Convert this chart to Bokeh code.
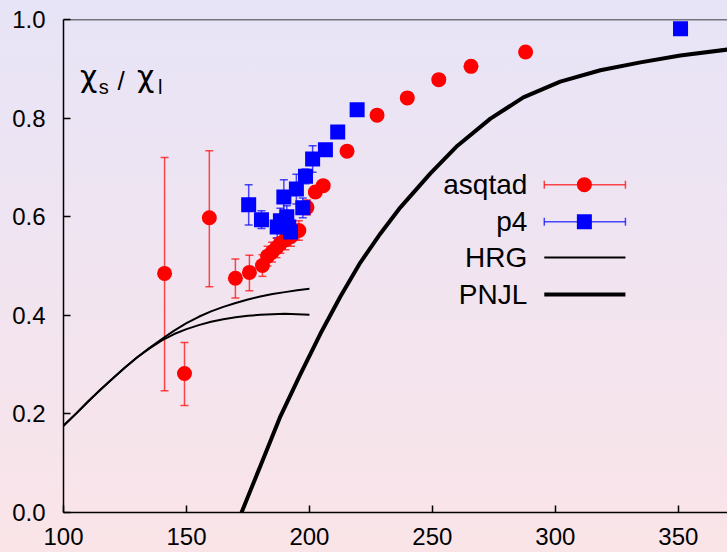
from bokeh.plotting import figure
from bokeh.models import (ColumnDataSource, Whisker, TeeHead, FixedTicker, PrintfTickFormatter,
                          Span, Label)
from bokeh.embed import file_html
from bokeh.resources import INLINE

# ---------------- data ----------------
asqtad_T = [141.1, 149.2, 159.3, 169.9, 175.6, 180.9, 183.0, 184.8, 186.6, 188.2, 190.2, 192.5,
            195.7, 199.0, 202.4, 205.6, 215.3, 227.5, 239.8, 252.6, 265.7, 287.9]
asqtad_val = [0.485, 0.282, 0.598, 0.475, 0.487, 0.501, 0.520, 0.528, 0.537, 0.546, 0.553, 0.560,
              0.572, 0.619, 0.650, 0.663, 0.733, 0.806, 0.841, 0.878, 0.905, 0.934]
asqtad_lo = [0.247, 0.217, 0.458, 0.435, 0.450, 0.479, 0.500, 0.508, 0.517, 0.526, 0.533, 0.540,
             0.552, 0.604, 0.640, 0.653, 0.728, 0.803, 0.838, 0.875, 0.902, 0.931]
asqtad_hi = [0.720, 0.345, 0.734, 0.514, 0.522, 0.523, 0.540, 0.548, 0.557, 0.566, 0.573, 0.580,
             0.592, 0.634, 0.660, 0.673, 0.738, 0.809, 0.844, 0.881, 0.908, 0.937]

p4_T = [175.3, 180.5, 186.9, 188.2, 189.6, 190.8, 191.6, 192.3, 194.7, 197.3, 198.4, 201.3,
        206.5, 211.5, 219.4, 350.9]
p4_val = [0.624, 0.594, 0.579, 0.592, 0.640, 0.600, 0.579, 0.569, 0.656, 0.618, 0.682, 0.717,
          0.736, 0.772, 0.817, 0.981]
p4_err = [0.041, 0.018, 0.022, 0.025, 0.035, 0.022, 0.020, 0.022, 0.030, 0.020, 0.015, 0.027,
          0.010, 0.008, 0.006, 0.004]

hrg_T = [100, 105, 110, 115, 120, 125, 130, 135, 140, 145, 150, 155, 160, 165, 170, 175, 180,
         185, 190, 195, 200]
hrg_upper = [0.176, 0.200, 0.225, 0.249, 0.272, 0.294, 0.315, 0.334, 0.352, 0.369, 0.384, 0.397,
             0.408, 0.417, 0.425, 0.432, 0.438, 0.443, 0.447, 0.451, 0.454]
hrg_lower = [0.176, 0.200, 0.225, 0.249, 0.272, 0.294, 0.315, 0.333, 0.349, 0.362, 0.372, 0.380,
             0.387, 0.392, 0.396, 0.399, 0.401, 0.402, 0.403, 0.402, 0.401]

pnjl_T = [172.4, 180.1, 188.2, 196.3, 204.5, 212.6, 220.7, 228.9, 237.0, 249.2, 260.2, 273.6,
          287.0, 302.0, 318.3, 334.6, 350.8, 370.0]
pnjl_val = [0.0, 0.095, 0.195, 0.280, 0.363, 0.438, 0.507, 0.566, 0.619, 0.688, 0.744, 0.799,
            0.842, 0.874, 0.897, 0.913, 0.927, 0.939]

x_ticks = [100, 150, 200, 250, 300, 350]
y_ticks = [0.0, 0.2, 0.4, 0.6, 0.8, 1.0]

legend_labels = ["asqtad", "p4", "HRG", "PNJL"]

# ---------------- styles ----------------
FONT = "Liberation Sans"
RED = "#ff0000"
BLUE = "#0000ff"

p = figure(width=727, height=552, x_range=(100, 370), y_range=(0, 1.0),
           output_backend="svg", toolbar_location=None, title=None,
           min_border_left=63, min_border_right=0, min_border_top=19, min_border_bottom=40)
p.background_fill_color = None
p.border_fill_color = None
p.outline_line_color = None
p.styles = {"background": "linear-gradient(to bottom, #e7e4f7 0%, #f1e4f0 50%, #fae4e8 100%)"}
p.grid.visible = False

for ax in (p.xaxis[0], p.yaxis[0]):
    ax.axis_line_color = "black"
    ax.axis_line_width = 1.5
    ax.major_tick_in = 7
    ax.major_tick_out = 0
    ax.major_tick_line_width = 1.5
    ax.minor_tick_line_color = None
    ax.major_label_text_font = FONT
    ax.major_label_text_font_size = "24px"
    ax.major_label_text_color = "black"
p.xaxis.ticker = FixedTicker(ticks=x_ticks)
p.yaxis.ticker = FixedTicker(ticks=y_ticks)
p.xaxis.formatter = PrintfTickFormatter(format="%d")
p.yaxis.formatter = PrintfTickFormatter(format="%.1f")
p.xaxis.major_label_standoff = 15
p.yaxis.major_label_standoff = 18

p.add_layout(Span(location=1.0, dimension="width", line_color="black", line_width=1.5))

# HRG and PNJL curves
p.line(hrg_T, hrg_upper, line_color="black", line_width=2)
p.line(hrg_T, hrg_lower, line_color="black", line_width=2)
p.line(pnjl_T, pnjl_val, line_color="black", line_width=4, line_join="round")

# asqtad
src_a = ColumnDataSource(dict(x=asqtad_T, y=asqtad_val, lo=asqtad_lo, hi=asqtad_hi))
p.add_layout(Whisker(source=src_a, base="x", lower="lo", upper="hi", dimension="height",
                     line_color=RED, line_alpha=0.7, line_width=1.5,
                     upper_head=TeeHead(size=8, line_color=RED, line_alpha=0.7, line_width=1.5),
                     lower_head=TeeHead(size=8, line_color=RED, line_alpha=0.7, line_width=1.5)))
p.scatter("x", "y", source=src_a, marker="circle", size=15, fill_color=RED, line_color=None)

# p4
p4_lo = [v - e for v, e in zip(p4_val, p4_err)]
p4_hi = [v + e for v, e in zip(p4_val, p4_err)]
src_b = ColumnDataSource(dict(x=p4_T, y=p4_val, lo=p4_lo, hi=p4_hi))
p.add_layout(Whisker(source=src_b, base="x", lower="lo", upper="hi", dimension="height",
                     line_color=BLUE, line_alpha=0.7, line_width=1.5,
                     upper_head=TeeHead(size=8, line_color=BLUE, line_alpha=0.7, line_width=1.5),
                     lower_head=TeeHead(size=8, line_color=BLUE, line_alpha=0.7, line_width=1.5)))
p.scatter("x", "y", source=src_b, marker="square", size=15, fill_color=BLUE, line_color=None)

# ---------------- legend (manual, text left of sample) ----------------
leg_y = [0.665, 0.590, 0.517, 0.442]
leg_text_x = 288.6
leg_x0, leg_x1, leg_xm = 295.5, 328.5, 311.8
for lab, yy in zip(legend_labels, leg_y):
    p.add_layout(Label(x=leg_text_x, y=yy, text=lab, text_align="right", text_baseline="middle",
                       text_font=FONT, text_font_size="28px", text_color="black"))

for i, (col, mk) in enumerate([(RED, "circle"), (BLUE, "square")]):
    s = ColumnDataSource(dict(b=[leg_y[i]], l=[leg_x0], u=[leg_x1]))
    p.add_layout(Whisker(source=s, base="b", lower="l", upper="u", dimension="width",
                         line_color=col, line_alpha=0.7, line_width=1.5,
                         upper_head=TeeHead(size=8, line_color=col, line_alpha=0.7, line_width=1.5),
                         lower_head=TeeHead(size=8, line_color=col, line_alpha=0.7, line_width=1.5)))
    p.scatter([leg_xm], [leg_y[i]], marker=mk, size=15, fill_color=col, line_color=None)
p.line([leg_x0, leg_x1], [leg_y[2], leg_y[2]], line_color="black", line_width=2)
p.line([leg_x0, leg_x1], [leg_y[3], leg_y[3]], line_color="black", line_width=4)

# ---------------- y label chi_s / chi_l ----------------
for txt, xx, yy, fs, fnt in [("χ", 106.7, 0.884, "30px", "DejaVu Sans"),
                             ("s", 114.3, 0.864, "20px", FONT),
                             ("/", 122.0, 0.876, "26px", FONT),
                             ("χ", 129.9, 0.884, "30px", "DejaVu Sans"),
                             ("l", 138.4, 0.864, "20px", FONT)]:
    p.add_layout(Label(x=xx, y=yy, text=txt, text_align="left", text_baseline="alphabetic",
                       text_font=fnt, text_font_size=fs, text_color="black"))

open("out.html", "w").write(file_html(p, INLINE))
